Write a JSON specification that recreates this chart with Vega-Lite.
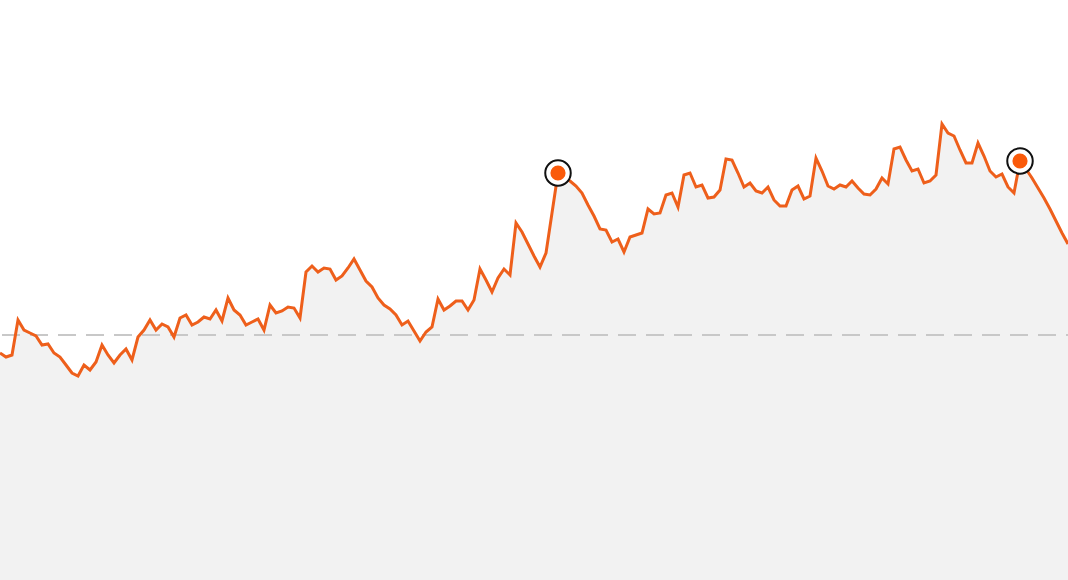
{
  "$schema": "https://vega.github.io/schema/vega-lite/v6.json",
  "width": 1068,
  "height": 580,
  "autosize": {"type": "none"},
  "padding": 0,
  "background": "white",
  "config": {"view": {"stroke": null}},
  "datasets": {
    "series": [
      {"i":0,"v":227},{"i":1,"v":223},{"i":2,"v":225},{"i":3,"v":260},{"i":4,"v":250},{"i":5,"v":247},{"i":6,"v":244},{"i":7,"v":235},{"i":8,"v":236},{"i":9,"v":227},
      {"i":10,"v":223},{"i":11,"v":215},{"i":12,"v":207},{"i":13,"v":204},{"i":14,"v":215},{"i":15,"v":210},{"i":16,"v":218},{"i":17,"v":235},{"i":18,"v":225},{"i":19,"v":217},
      {"i":20,"v":225},{"i":21,"v":231},{"i":22,"v":220},{"i":23,"v":243},{"i":24,"v":250},{"i":25,"v":260},{"i":26,"v":250},{"i":27,"v":256},{"i":28,"v":253},{"i":29,"v":243},
      {"i":30,"v":262},{"i":31,"v":265},{"i":32,"v":255},{"i":33,"v":258},{"i":34,"v":263},{"i":35,"v":261},{"i":36,"v":270},{"i":37,"v":259},{"i":38,"v":282},{"i":39,"v":270},
      {"i":40,"v":265},{"i":41,"v":255},{"i":42,"v":258},{"i":43,"v":261},{"i":44,"v":250},{"i":45,"v":275},{"i":46,"v":267},{"i":47,"v":269},{"i":48,"v":273},{"i":49,"v":272},
      {"i":50,"v":262},{"i":51,"v":308},{"i":52,"v":314},{"i":53,"v":308},{"i":54,"v":312},{"i":55,"v":311},{"i":56,"v":300},{"i":57,"v":304},{"i":58,"v":312},{"i":59,"v":321},
      {"i":60,"v":310},{"i":61,"v":299},{"i":62,"v":293},{"i":63,"v":282},{"i":64,"v":275},{"i":65,"v":271},{"i":66,"v":265},{"i":67,"v":255},{"i":68,"v":259},{"i":69,"v":249},
      {"i":70,"v":239},{"i":71,"v":248},{"i":72,"v":253},{"i":73,"v":281},{"i":74,"v":270},{"i":75,"v":274},{"i":76,"v":279},{"i":77,"v":279},{"i":78,"v":270},{"i":79,"v":280},
      {"i":80,"v":311},{"i":81,"v":300},{"i":82,"v":288},{"i":83,"v":302},{"i":84,"v":311},{"i":85,"v":305},{"i":86,"v":357},{"i":87,"v":348},{"i":88,"v":336},{"i":89,"v":324},
      {"i":90,"v":313},{"i":91,"v":327},{"i":92,"v":367},{"i":93,"v":407},{"i":94,"v":403},{"i":95,"v":399},{"i":96,"v":394},{"i":97,"v":387},{"i":98,"v":375},{"i":99,"v":364},
      {"i":100,"v":351},{"i":101,"v":350},{"i":102,"v":338},{"i":103,"v":341},{"i":104,"v":328},{"i":105,"v":343},{"i":106,"v":345},{"i":107,"v":347},{"i":108,"v":371},{"i":109,"v":366},
      {"i":110,"v":367},{"i":111,"v":385},{"i":112,"v":387},{"i":113,"v":373},{"i":114,"v":405},{"i":115,"v":407},{"i":116,"v":393},{"i":117,"v":395},{"i":118,"v":382},{"i":119,"v":383},
      {"i":120,"v":390},{"i":121,"v":421},{"i":122,"v":420},{"i":123,"v":407},{"i":124,"v":393},{"i":125,"v":397},{"i":126,"v":389},{"i":127,"v":387},{"i":128,"v":393},{"i":129,"v":380},
      {"i":130,"v":374},{"i":131,"v":374},{"i":132,"v":390},{"i":133,"v":394},{"i":134,"v":381},{"i":135,"v":384},{"i":136,"v":422},{"i":137,"v":409},{"i":138,"v":394},{"i":139,"v":391},
      {"i":140,"v":395},{"i":141,"v":393},{"i":142,"v":399},{"i":143,"v":392},{"i":144,"v":386},{"i":145,"v":385},{"i":146,"v":391},{"i":147,"v":402},{"i":148,"v":396},{"i":149,"v":431},
      {"i":150,"v":433},{"i":151,"v":420},{"i":152,"v":409},{"i":153,"v":411},{"i":154,"v":397},{"i":155,"v":399},{"i":156,"v":405},{"i":157,"v":456},{"i":158,"v":447},{"i":159,"v":444},
      {"i":160,"v":430},{"i":161,"v":417},{"i":162,"v":417},{"i":163,"v":437},{"i":164,"v":424},{"i":165,"v":409},{"i":166,"v":403},{"i":167,"v":406},{"i":168,"v":393},{"i":169,"v":387},
      {"i":170,"v":419},{"i":171,"v":411},{"i":172,"v":402},{"i":173,"v":392},{"i":174,"v":382},{"i":175,"v":371},{"i":176,"v":359},{"i":177,"v":347},{"i":178,"v":336}
    ]
  },
  "data": {"name": "series"},
  "encoding": {
    "x": {"field": "i", "type": "quantitative", "scale": {"domain": [0, 178], "nice": false, "zero": false}, "axis": null},
    "y": {"field": "v", "type": "quantitative", "scale": {"domain": [0, 580], "nice": false}, "axis": null}
  },
  "layer": [
    {"mark": {"type": "area", "color": "#f2f2f2", "opacity": 1}},
    {"mark": {"type": "rule", "color": "#c8c8c8", "strokeWidth": 2, "strokeDash": [18, 10], "strokeDashOffset": 16},
     "encoding": {"x": null, "y": {"datum": 245, "type": "quantitative"}}},
    {"mark": {"type": "line", "color": "#ee5f1b", "strokeWidth": 3, "strokeJoin": "miter"}},
    {"transform": [{"filter": "datum.i == 93 || datum.i == 170"}],
     "mark": {"type": "point", "shape": "circle", "filled": true, "fill": "white", "stroke": "#111111", "strokeWidth": 2, "size": 650, "opacity": 1}},
    {"transform": [{"filter": "datum.i == 93 || datum.i == 170"}],
     "mark": {"type": "point", "shape": "circle", "filled": true, "color": "#fa5a0a", "size": 230, "opacity": 1}}
  ]
}
